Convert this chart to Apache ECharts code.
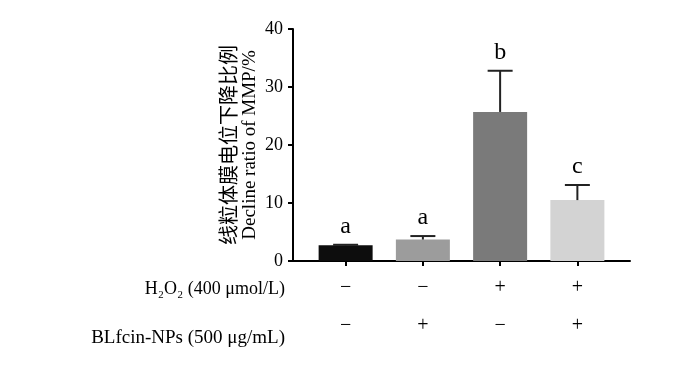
<!DOCTYPE html>
<html><head><meta charset="utf-8">
<script src="https://cdn.jsdelivr.net/npm/echarts@6/dist/echarts.min.js"></script>
<style>html,body{margin:0;padding:0;background:#fff}#c{width:700px;height:381px}</style>
</head><body><div id="c"></div>
<script>
var categories = ['G1', 'G2', 'G3', 'G4'];
var values = [2.7, 3.7, 25.7, 10.5];
var errors = [0.1, 0.6, 7.1, 2.6];
var letters = ['a', 'a', 'b', 'c'];
var barColors = ['#0d0d0d', '#9c9c9c', '#7a7a7a', '#d3d3d3'];
var h2o2Signs = ['\u2212', '\u2212', '+', '+'];
var npSigns = ['\u2212', '+', '\u2212', '+'];
var yTicks = [0, 10, 20, 30, 40];

var serif = 'Liberation Serif';
var chart = echarts.init(document.getElementById('c'));
chart.setOption({
  animation: false,
  grid: [
    {left: 293, right: 70, top: 29, bottom: 120},
    {left: 307, width: 309, top: 29, bottom: 120}
  ],
  xAxis: [
    {gridIndex: 0, type: 'value', min: 0, max: 1, axisLine: {show: true, lineStyle: {color: '#000', width: 2}},
     axisTick: {show: false}, axisLabel: {show: false}, splitLine: {show: false}},
    {gridIndex: 1, type: 'category', data: categories, axisLine: {show: false},
     axisTick: {show: true, alignWithLabel: true, length: 5, lineStyle: {color: '#000', width: 2}},
     axisLabel: {show: false}},
    {gridIndex: 1, type: 'category', data: h2o2Signs, position: 'bottom', offset: 28,
     axisLine: {show: false}, axisTick: {show: false},
     axisLabel: {margin: -11, fontFamily: serif, fontSize: 20, color: '#000'},
     name: 'H\u2082O\u2082 (400 \u03bcmol/L)', nameLocation: 'start', nameGap: 22,
     nameTextStyle: {fontFamily: serif, fontSize: 18, color: '#000'}},
    {gridIndex: 1, type: 'category', data: npSigns, position: 'bottom', offset: 77,
     axisLine: {show: false}, axisTick: {show: false},
     axisLabel: {margin: -22, fontFamily: serif, fontSize: 20, color: '#000'},
     name: 'BLfcin-NPs (500 \u03bcg/mL)', nameLocation: 'start', nameGap: 22,
     nameTextStyle: {fontFamily: serif, fontSize: 19, color: '#000'}}
  ],
  yAxis: [
    {gridIndex: 0, type: 'value', min: yTicks[0], max: yTicks[yTicks.length - 1], interval: 10,
     axisLine: {show: true, lineStyle: {color: '#000', width: 2}},
     axisTick: {show: true, length: 5, lineStyle: {color: '#000', width: 2}},
     axisLabel: {margin: 10, fontFamily: serif, fontSize: 18, color: '#000'},
     splitLine: {show: false},
     name: '{cn|线粒体膜电位下降比例}\n{en|Decline ratio of MMP/%}',
     nameLocation: 'middle', nameGap: 32, nameRotate: 90,
     nameTextStyle: {rich: {
       cn: {fontFamily: 'Noto Sans CJK SC', fontSize: 20, color: '#000', lineHeight: 22},
       en: {fontFamily: serif, fontSize: 19, color: '#000', lineHeight: 22}
     }}},
    {gridIndex: 1, type: 'value', min: 0, max: 40, show: false}
  ],
  series: [
    {type: 'bar', xAxisIndex: 1, yAxisIndex: 1, barWidth: 54,
     data: values.map(function (v, i) { return {value: v, itemStyle: {color: barColors[i]}}; })},
    {type: 'custom', xAxisIndex: 1, yAxisIndex: 1, z: 5,
     data: values.map(function (v, i) { return [i, v, v + errors[i]]; }),
     renderItem: function (params, api) {
       var x = api.coord([api.value(0), 0])[0];
       var y0 = api.coord([0, api.value(1)])[1];
       var y1 = api.coord([0, api.value(2)])[1];
       var st = {stroke: '#222', lineWidth: 2};
       return {type: 'group', children: [
         {type: 'line', shape: {x1: x, y1: y0, x2: x, y2: y1}, style: st},
         {type: 'line', shape: {x1: x - 12.5, y1: y1, x2: x + 12.5, y2: y1}, style: st},
         {type: 'text', style: {text: letters[params.dataIndex], x: x, y: y1 - 6,
           textAlign: 'center', textVerticalAlign: 'bottom', fontFamily: serif, fontSize: 24, fill: '#000'}}
       ]};
     }}
  ]
});
</script></body></html>
